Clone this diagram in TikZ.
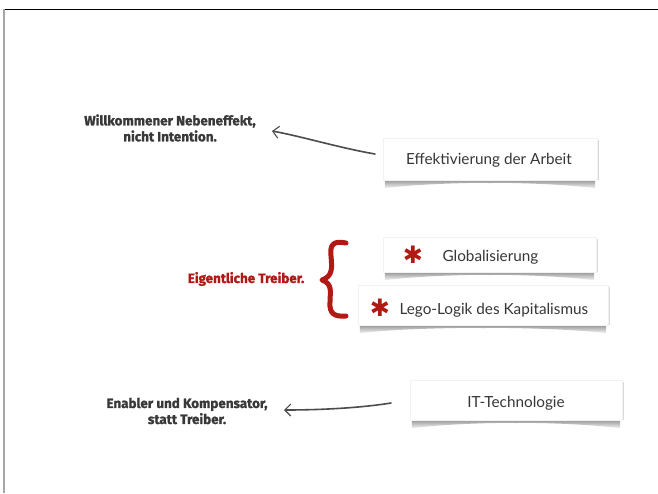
\documentclass[tikz,border=0pt]{standalone}
\usepackage{fontspec}
\setmainfont{Lato}
\newfontfamily\handfont{Fira Sans}[BoldFeatures={FakeBold=1.3}]
\newfontfamily\symfont{DejaVu Sans}
\usetikzlibrary{backgrounds,arrows.meta,calc}
\definecolor{redink}{RGB}{178,24,20}
\definecolor{ink}{RGB}{55,55,55}
\tikzset{
  card/.style={draw=gray!10, fill=white, inner sep=0pt},
  cardtext/.style={font=\fontsize{15.3}{17}\selectfont, text=ink},
  hand/.style={font=\handfont\bfseries\fontsize{13.4}{16}\selectfont, text=black!78, align=center},
  handred/.style={hand, text=redink},
  star/.style={font=\symfont\bfseries\fontsize{24}{24}\selectfont, text=redink},
  sketch/.style={draw=black!70, line width=1.6pt, line cap=round, -{Straight Barb[length=6pt,width=12pt,line width=1.1pt]}},
}
\begin{document}
\begin{tikzpicture}[x=1pt,y=-1pt]
\useasboundingbox (0,0) rectangle (658,493);
\draw[black, line width=1pt] (4,9) -- (658,9);
\draw[gray!70, line width=1.4pt] (4,9) -- (4,493);

% cards
\node[card, minimum width=214pt, minimum height=42pt] (box1) at (490,159) {};
\node[card, minimum width=213pt, minimum height=35pt] (box2) at (489.5,254.5) {};
\node[card, minimum width=250pt, minimum height=40pt] (box3) at (483,305) {};
\node[card, minimum width=212pt, minimum height=40pt] (box4) at (516,400) {};

\begin{pgfonlayer}{background}
\fill[white] (0,0) rectangle (658,493);
\foreach \n in {box1,box2,box3,box4}{
  \shade[top color=gray!80, bottom color=gray!8]
    ([xshift=2pt]\n.south west) -- ([xshift=-2pt]\n.south east)
    -- ([xshift=-2pt,yshift=-8pt]\n.south east)
    .. controls ([xshift=-40pt,yshift=-3pt]\n.south east) and ([yshift=-2pt]\n.south) .. ([yshift=-3pt]\n.south)
    .. controls ([yshift=-2pt]\n.south) and ([xshift=40pt,yshift=-3pt]\n.south west) .. ([xshift=2pt,yshift=-8pt]\n.south west)
    -- cycle;
  \fill[gray!30] ([yshift=-2pt]\n.north east) rectangle ([xshift=2pt]\n.south east);
}
\end{pgfonlayer}

% card texts
\node[cardtext] (t1) at (489,160) {Effektivierung der Arbeit};
\node[star] (s2) at (413,255) {✱};
\node[cardtext, anchor=west] (t2) at (439,257) {Globalisierung};
\node[star] (s3) at (380,308) {✱};
\node[cardtext, anchor=west] (t3) at (396,310) {Lego-Logik des Kapitalismus};
\node[cardtext] (t4) at (516,403) {IT-Technologie};

% left labels
\node[hand] (l1) at (170,128) {Willkommener Nebeneffekt,\\nicht Intention.};
\node[handred] (l2) at (246,279) {Eigentliche Treiber.};
\node[hand] (l3) at (187,411) {Enabler und Kompensator,\\statt Treiber.};

% arrows
\coordinate (a1s) at (375,154);
\coordinate (a1e) at (272,131);
\coordinate (a2s) at (391,403);
\coordinate (a2e) at (284,410);
\draw[sketch] (a1s) .. controls (340,148) and (300,136) .. (a1e);
\draw[sketch] (a2s) .. controls (360,408) and (320,410) .. (a2e);

% brace
\coordinate (b1) at (346,243);
\coordinate (b2) at (322,280);
\coordinate (b3) at (346,316);
\draw[redink, line width=5pt, line cap=round, line join=round]
  (b1) .. controls (332,240) and (330,246) .. (331,256)
  .. controls (332,268) and (333,276) .. (b2)
  .. controls (333,284) and (330,292) .. (330,302)
  .. controls (329,314) and (335,317) .. (b3);
\end{tikzpicture}
\end{document}
